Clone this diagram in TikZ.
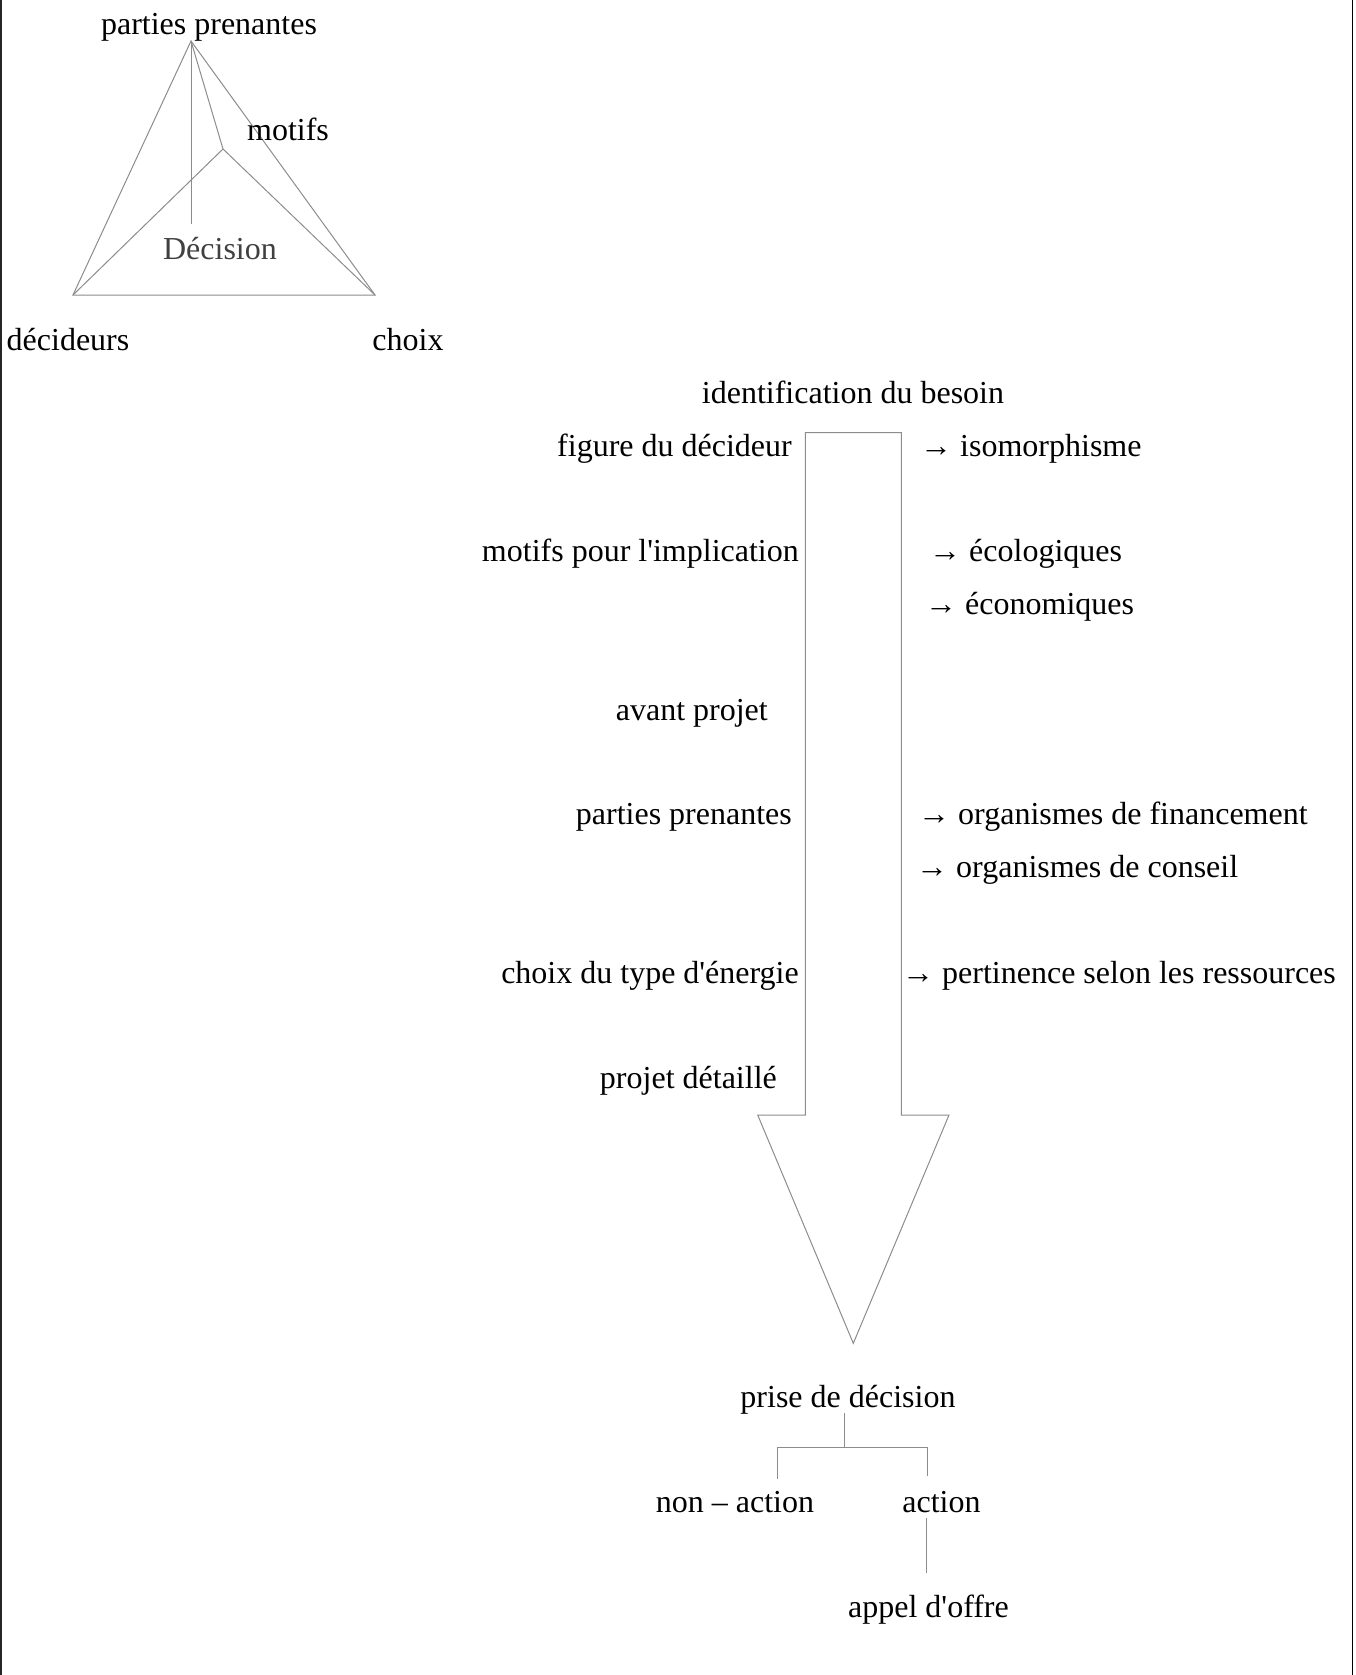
\documentclass[tikz,border=0pt]{standalone}
\usepackage{fontspec}
\setmainfont{Liberation Serif}
\definecolor{linegray}{gray}{0.55}
\definecolor{dectext}{gray}{0.25}
\begin{document}
\begin{tikzpicture}[x=1pt,y=-1pt,
  lbl/.style={inner sep=0pt, font=\fontsize{32}{38}\selectfont},
  ln/.style={draw=linegray, line width=1pt}]
\useasboundingbox (0,0) rectangle (1355,1675);
% page borders
\draw[line width=1.5pt, draw={gray!30!black}] (0.75,0) -- (0.75,1675);
\draw[line width=1.3pt, black] (1352.5,0) -- (1352.5,1675);

% ---- triangle ----
\coordinate (apex) at (191,41);
\coordinate (bl) at (73,295);
\coordinate (br) at (375,295);
\coordinate (mid) at (223,149);
\coordinate (vend) at (191,224);
\draw[ln] (apex) -- (bl) -- (br) -- cycle;
\draw[ln] (apex) -- (mid) -- (bl);
\draw[ln] (mid) -- (br);
\draw[ln] (apex) -- (vend);

\node[lbl, anchor=base] (tpp) at (209,35) {parties prenantes};
\node[lbl, anchor=base] (tmot) at (288,141) {motifs};
\node[lbl, anchor=base, text=dectext] (tdec) at (220,259) {Décision};
\node[lbl, anchor=base] (tdecid) at (68,350) {décideurs};
\node[lbl, anchor=base] (tchoix) at (408,350) {choix};

% ---- big arrow ----
\draw[ln, line join=miter] (805.3,432.7) -- (901.3,432.7) -- (901.3,1115) -- (949,1115)
  -- (853.3,1343.3) -- (757.7,1115) -- (805.3,1115) -- cycle;

\node[lbl, anchor=base] (ident) at (853,403) {identification du besoin};
\node[lbl, anchor=base east] (fig) at (792,456) {figure du décideur};
\node[lbl, anchor=base west] (iso) at (920,456) {→ isomorphisme};
\node[lbl, anchor=base east] (motimp) at (799,561) {motifs pour l\textquotesingle implication};
\node[lbl, anchor=base west] (eco) at (929,561) {→ écologiques};
\node[lbl, anchor=base west] (econ) at (925,614) {→ économiques};
\node[lbl, anchor=base east] (avp) at (768,720) {avant projet};
\node[lbl, anchor=base east] (pp) at (792,824) {parties prenantes};
\node[lbl, anchor=base west] (fin) at (918,824) {→ organismes de financement};
\node[lbl, anchor=base west] (cons) at (916,877) {→ organismes de conseil};
\node[lbl, anchor=base east] (choixt) at (799,983) {choix du type d\textquotesingle énergie};
\node[lbl, anchor=base west] (pert) at (902,983) {→ pertinence selon les ressources};
\node[lbl, anchor=base east] (pdet) at (777,1088) {projet détaillé};

% ---- decision tree ----
\node[lbl, anchor=base] (prise) at (848,1407) {prise de décision};
\node[lbl, anchor=base] (nonact) at (735,1512) {non – action};
\node[lbl, anchor=base] (act) at (941.5,1512) {action};
\node[lbl, anchor=base] (appel) at (928.5,1617) {appel d\textquotesingle offre};

\coordinate (ptop) at (844,1413);
\coordinate (pjoin) at (844,1447);
\coordinate (ltop) at (777,1447);
\coordinate (lbot) at (777,1479);
\coordinate (rtop) at (927,1447);
\coordinate (rbot) at (927,1476);
\coordinate (atop) at (926,1518);
\coordinate (abot) at (926,1573);
\draw[ln] (ptop) -- (pjoin);
\draw[ln] (lbot) -- (ltop) -- (rtop) -- (rbot);
\draw[ln] (atop) -- (abot);
\end{tikzpicture}
\end{document}
